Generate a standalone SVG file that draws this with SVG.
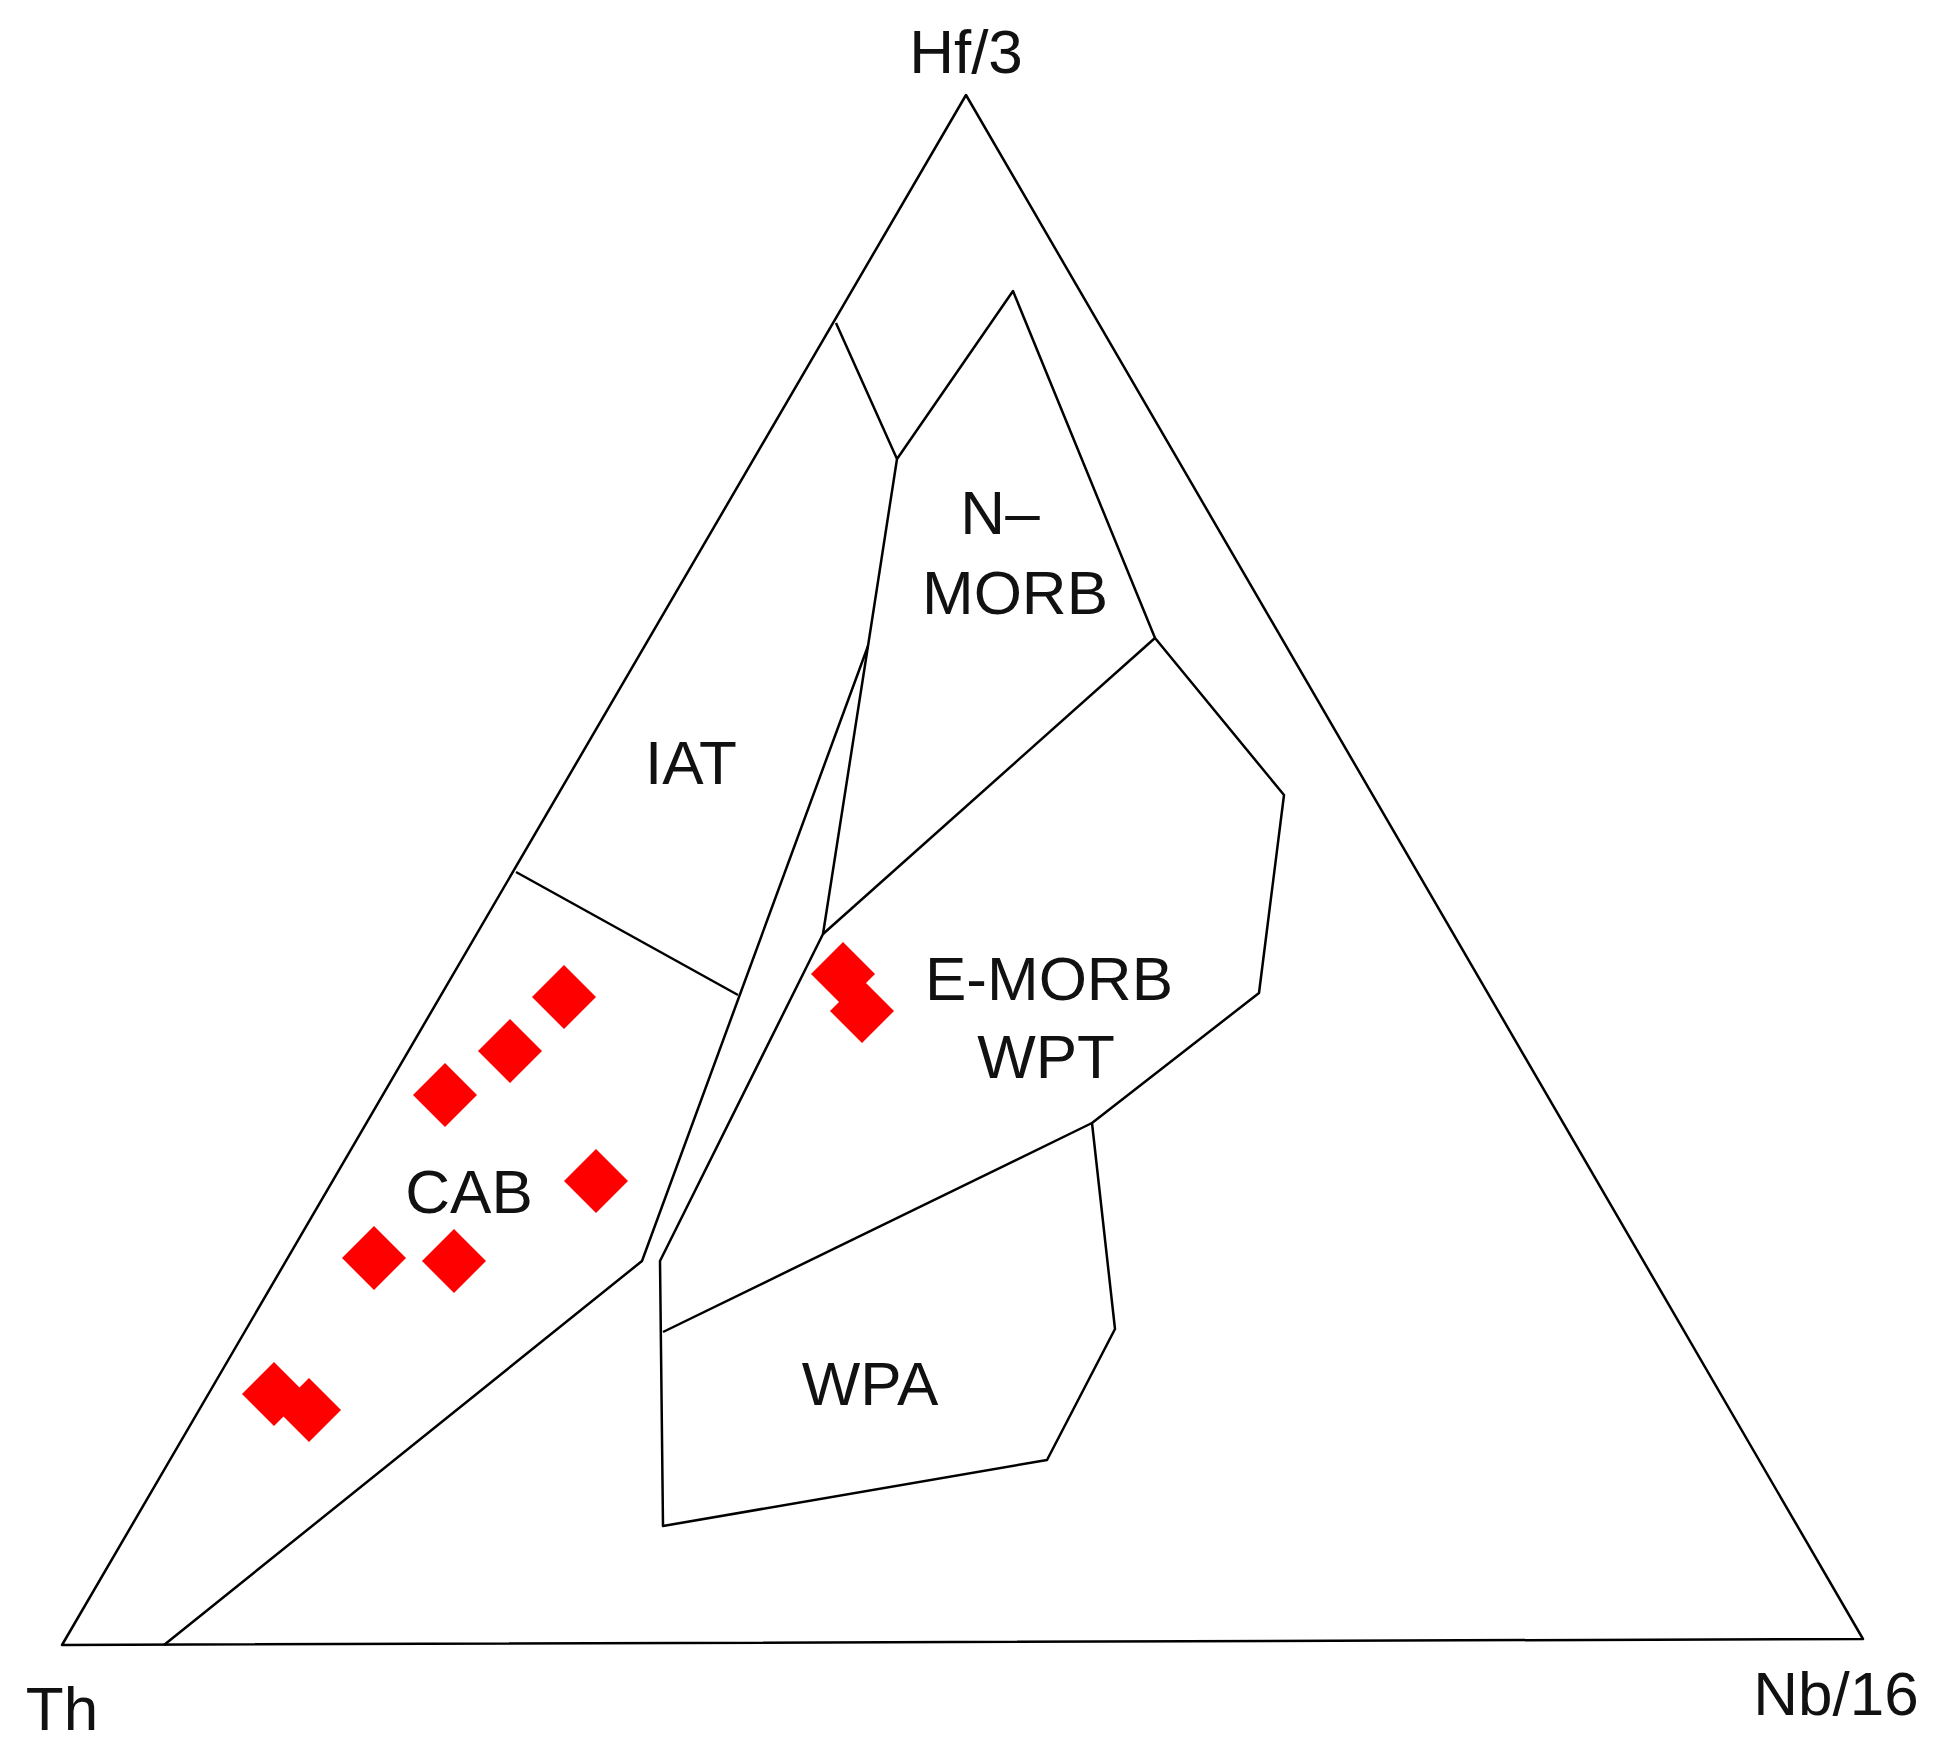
<svg xmlns="http://www.w3.org/2000/svg" width="1933" height="1753" viewBox="0 0 1933 1753">
<style>
.l{fill:none;stroke:#000;stroke-width:2.5;stroke-linejoin:round}
.t{font-family:"Liberation Sans",Arial,sans-serif;font-size:62px;fill:#111;text-anchor:middle}
.d{fill:#f00}
</style>
<defs><path id="dm" d="M0,-32 L32,0 L0,32 L-32,0 Z"/></defs>
<rect width="1933" height="1753" fill="#fff"/>
<g id="connectors">
<path class="l" d="M62,1645 L966,95 L1863,1639 Z"/>
<path class="l" d="M836,323 L897,459 L1013,291 L1155,638 L1284,795 L1259,993 L1092,1123 L1115,1329 L1047,1460 L663,1526 L660,1261 L823,934 L868,646 L897,459"/>
<path class="l" d="M868,646 L642,1261 L164,1645"/>
<path class="l" d="M516,872 L738,995"/>
<path class="l" d="M1155,638 L823,934"/>
<path class="l" d="M663,1332 L1092,1123"/>
</g>
<g id="labels">
<text class="t" x="966" y="73">Hf/3</text>
<text class="t" x="62" y="1730">Th</text>
<text class="t" x="1836" y="1715">Nb/16</text>
<text class="t" x="1000" y="534">N–</text>
<text class="t" x="1015" y="614">MORB</text>
<text class="t" x="691" y="784">IAT</text>
<text class="t" x="1049" y="1000">E-MORB</text>
<text class="t" x="1046" y="1078">WPT</text>
<text class="t" x="469" y="1213">CAB</text>
<text class="t" x="870" y="1405">WPA</text>
</g>
<g id="points">
<use href="#dm" class="d" x="564" y="997"/>
<use href="#dm" class="d" x="510" y="1051"/>
<use href="#dm" class="d" x="445" y="1095"/>
<use href="#dm" class="d" x="596" y="1181"/>
<use href="#dm" class="d" x="374" y="1258"/>
<use href="#dm" class="d" x="454" y="1261"/>
<use href="#dm" class="d" x="274" y="1394"/>
<use href="#dm" class="d" x="309" y="1410"/>
<use href="#dm" class="d" x="843" y="974"/>
<use href="#dm" class="d" x="862" y="1011"/>
</g>
</svg>
